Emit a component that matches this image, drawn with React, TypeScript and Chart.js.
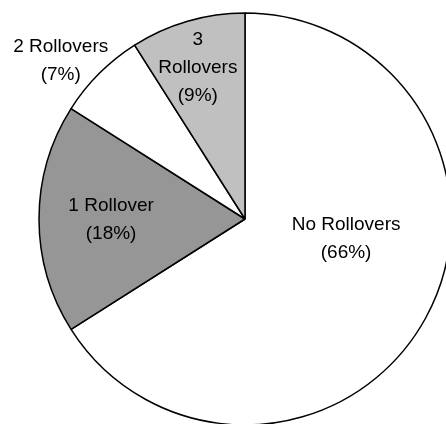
import React, { useEffect, useRef } from "react";
import { Chart, registerables } from "chart.js";

Chart.register(...registerables);

const categories = ["No Rollovers", "1 Rollover", "2 Rollovers", "3 Rollovers"];
const values = [66, 18, 7, 9];
const labelLines = [["No Rollovers"], ["1 Rollover"], ["2 Rollovers"], ["3", "Rollovers"]];
const sliceColors = ["#ffffff", "#969696", "#ffffff", "#c0c0c0"];

// label placement: angle (deg clockwise from top) and distance as fraction of radius
const labelAngle = [101, 269.5, 310.7, 342.7];
const labelDist = [0.5, 0.65, 1.18, 0.77];

const FONT = "'Liberation Sans', Arial, sans-serif";

const labelPlugin = {
  id: "sliceLabels",
  afterDraw(chart: any) {
    const meta = chart.getDatasetMeta(0);
    const ctx = chart.ctx;
    ctx.save();
    ctx.font = `19px ${FONT}`;
    ctx.fillStyle = "#000";
    ctx.textAlign = "center";
    ctx.textBaseline = "middle";
    meta.data.forEach((arc: any, i: number) => {
      const { x, y, outerRadius } = arc.getProps(["x", "y", "outerRadius"], true);
      const a = (labelAngle[i] * Math.PI) / 180;
      const r = outerRadius * labelDist[i];
      const cx = x + r * Math.sin(a);
      const cy = y - r * Math.cos(a);
      const lines = [...labelLines[i], `(${values[i]}%)`];
      const lh = 28;
      const top = cy - ((lines.length - 1) * lh) / 2;
      lines.forEach((t, k) => ctx.fillText(t, cx, top + k * lh));
    });
    ctx.restore();
  },
};

export default function App() {
  const ref = useRef<HTMLCanvasElement | null>(null);
  useEffect(() => {
    if (!ref.current) return;
    const chart = new Chart(ref.current, {
      type: "pie",
      data: {
        labels: categories,
        datasets: [
          {
            data: values,
            backgroundColor: sliceColors,
            borderColor: "#000000",
            borderWidth: 1.5,
          },
        ],
      },
      options: {
        responsive: false,
        animation: false,
        radius: 206,
        layout: { padding: 0 },
        plugins: {
          legend: { display: false },
          tooltip: { enabled: false },
        },
      } as any,
      plugins: [labelPlugin],
    });
    return () => chart.destroy();
  }, []);
  return (
    <div
      style={{
        position: "fixed",
        left: 0,
        top: 0,
        width: 446,
        height: 424,
        overflow: "hidden",
        background: "#fff",
      }}
    >
      <canvas ref={ref} width={490} height={438} style={{ width: 490, height: 438, display: "block" }} />
    </div>
  );
}
